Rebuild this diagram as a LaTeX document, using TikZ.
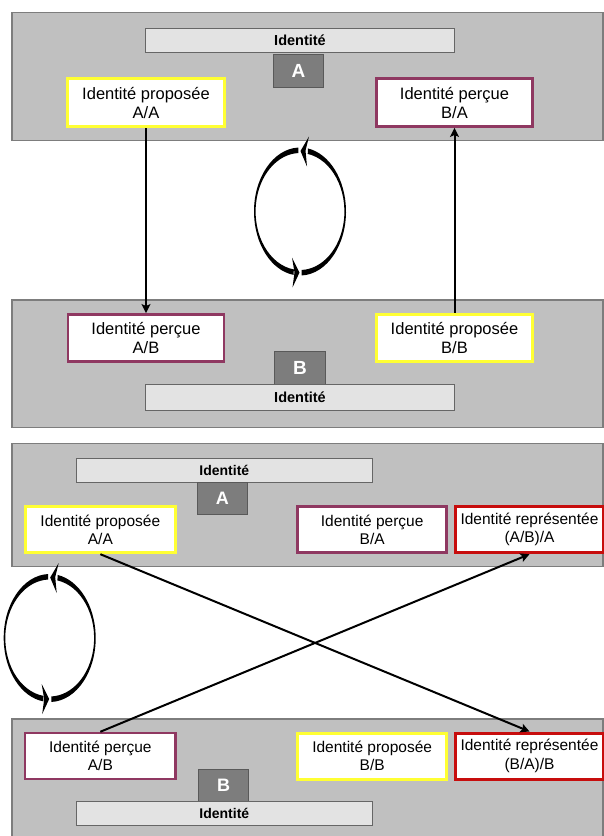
\documentclass[tikz,border=0pt]{standalone}
\usepackage{fontspec}
\setmainfont{Liberation Sans}
\usetikzlibrary{arrows.meta}
\newlength{\du}
\setlength{\du}{1pt}
\definecolor{fondpanneau}{rgb}{0.752941, 0.752941, 0.752941}
\definecolor{bordpanneau}{rgb}{0.490196, 0.490196, 0.490196}
\definecolor{fondbarre}{rgb}{0.890196, 0.890196, 0.890196}
\definecolor{bordbarre}{rgb}{0.400000, 0.400000, 0.400000}
\definecolor{fondlettre}{rgb}{0.490196, 0.490196, 0.490196}
\definecolor{bordlettre}{rgb}{0.350000, 0.350000, 0.350000}
\definecolor{jaune}{rgb}{1.000000, 1.000000, 0.200000}
\definecolor{prune}{rgb}{0.560000, 0.220000, 0.380000}
\definecolor{rouge}{rgb}{0.780000, 0.050000, 0.050000}
\tikzset{
  panneau/.style={draw=bordpanneau, fill=fondpanneau, line width=1.2\du, minimum width=591\du, inner sep=0pt},
  barre/.style={draw=bordbarre, fill=fondbarre, line width=1\du, inner sep=0pt,
    font=\bfseries\fontsize{14.5pt}{16pt}\selectfont},
  lettre/.style={draw=bordlettre, fill=fondlettre, line width=1\du, inner sep=0pt, text=white,
    font=\bfseries\fontsize{19pt}{21pt}\selectfont},
  boite/.style={fill=white, align=center, inner sep=0pt, font=\fontsize{16.5pt}{19pt}\selectfont},
  propose/.style={boite, draw=jaune, line width=3\du},
  percu/.style={boite, draw=prune, line width=2.5\du},
  represente/.style={boite, draw=rouge, line width=3\du},
  fleche/.style={line width=2\du, -{Stealth[length=9pt, width=9pt, inset=2pt]}},
  boucle/.pic={
    \begin{scope}[yscale=-1]
    \fill (1.610000\du,63.960000\du) arc[start angle=88, end angle=-80, x radius=46\du, y radius=64\du]
      -- (7.710000\du,-57.610000\du) arc[start angle=-80, end angle=88, x radius=44.4\du, y radius=58.5\du] -- cycle;
    \fill (-1.610000\du,-63.960000\du) arc[start angle=-92, end angle=-262, x radius=46\du, y radius=64\du]
      -- (-6.180000\du,57.930000\du) arc[start angle=-262, end angle=-92, x radius=44.4\du, y radius=58.5\du] -- cycle;
    \fill (0.500000\du,-60.500000\du)--(9.000000\du,-75.000000\du)--(5.500000\du,-61.000000\du)--(7.000000\du,-45.000000\du)--cycle;
    \fill (-0.500000\du,61.000000\du)--(-8.000000\du,46.000000\du)--(-5.500000\du,61.000000\du)--(-7.500000\du,76.000000\du)--cycle;
    \end{scope}
  }
}
\begin{document}
\begin{tikzpicture}
\pgftransformxscale{1.000000}
\pgftransformyscale{-1.000000}
\useasboundingbox (0\du,0\du) rectangle (604\du,836\du);
% premier schema
\node[panneau, minimum height=128.400000\du] (panA1) at (307.500000\du,76.500000\du){};
\node[barre, minimum width=308.600000\du, minimum height=24.700000\du] (barA1) at (300.000000\du,40.350000\du){Identité};
\node[lettre, minimum width=50.600000\du, minimum height=33.000000\du] (lettreA1) at (298.500000\du,70.800000\du){A};
\node[propose, minimum width=156.300000\du, minimum height=48.000000\du] (propA1) at (146.000000\du,102.700000\du){Identité proposée\\A/A};
\node[percu, minimum width=155.600000\du, minimum height=48.000000\du] (percA1) at (454.500000\du,102.700000\du){Identité perçue\\B/A};
\node[panneau, minimum height=127.700000\du] (panB1) at (307.500000\du,363.850000\du){};
\node[percu, minimum width=155.700000\du, minimum height=47.400000\du] (percB1) at (146.000000\du,338.000000\du){Identité perçue\\A/B};
\node[propose, minimum width=155.600000\du, minimum height=47.400000\du] (propB1) at (454.500000\du,338.000000\du){Identité proposée\\B/B};
\node[lettre, minimum width=51.400000\du, minimum height=33.300000\du] (lettreB1) at (300.000000\du,367.650000\du){B};
\node[barre, minimum width=308.600000\du, minimum height=25.700000\du] (barB1) at (300.000000\du,397.150000\du){Identité};
\draw[fleche] (propA1) -- (percB1);
\draw[fleche] (propB1) -- (percA1);
\pic at (300.000000\du,211.500000\du) {boucle};
% second schema
\begin{scope}[boite/.append style={font=\fontsize{15.5pt}{18.3pt}\selectfont},
  barre/.append style={font=\bfseries\fontsize{14pt}{15pt}\selectfont},
  lettre/.append style={font=\bfseries\fontsize{18pt}{20pt}\selectfont}]
\node[panneau, minimum height=123.400000\du] (panA2) at (307.500000\du,505.000000\du){};
\node[barre, minimum width=296.700000\du, minimum height=24.300000\du] (barA2) at (224.350000\du,470.150000\du){Identité};
\node[lettre, minimum width=50.000000\du, minimum height=32.000000\du] (lettreA2) at (222.300000\du,498.300000\du){A};
\node[propose, minimum width=150.700000\du, minimum height=46.000000\du] (propA2) at (100.350000\du,529.700000\du){Identité proposée\\A/A};
\node[percu, minimum width=149.000000\du, minimum height=46.000000\du] (percA2) at (372.200000\du,529.700000\du){Identité perçue\\B/A};
\node[represente, minimum width=147.600000\du, minimum height=46.000000\du] (reprA2) at (529.500000\du,529.700000\du){Identité représentée\\(A/B)/A};
\node[panneau, minimum height=126.000000\du] (panB2) at (307.500000\du,782.000000\du){};
\node[percu, minimum width=150.700000\du, minimum height=46.000000\du] (percB2) at (100.350000\du,756.000000\du){Identité perçue\\A/B};
\node[propose, minimum width=149.000000\du, minimum height=46.000000\du] (propB2) at (372.200000\du,756.000000\du){Identité proposée\\B/B};
\node[represente, minimum width=147.600000\du, minimum height=46.000000\du] (reprB2) at (529.500000\du,756.000000\du){Identité représentée\\(B/A)/B};
\node[lettre, minimum width=50.000000\du, minimum height=32.000000\du] (lettreB2) at (223.500000\du,785.000000\du){B};
\node[barre, minimum width=296.700000\du, minimum height=24.300000\du] (barB2) at (224.350000\du,813.200000\du){Identité};
\end{scope}
\draw[fleche] (propA2.south) -- (reprB2.north);
\draw[fleche] (percB2.north) -- (reprA2.south);
\pic at (49.700000\du,638.000000\du) {boucle};
\end{tikzpicture}
\end{document}
